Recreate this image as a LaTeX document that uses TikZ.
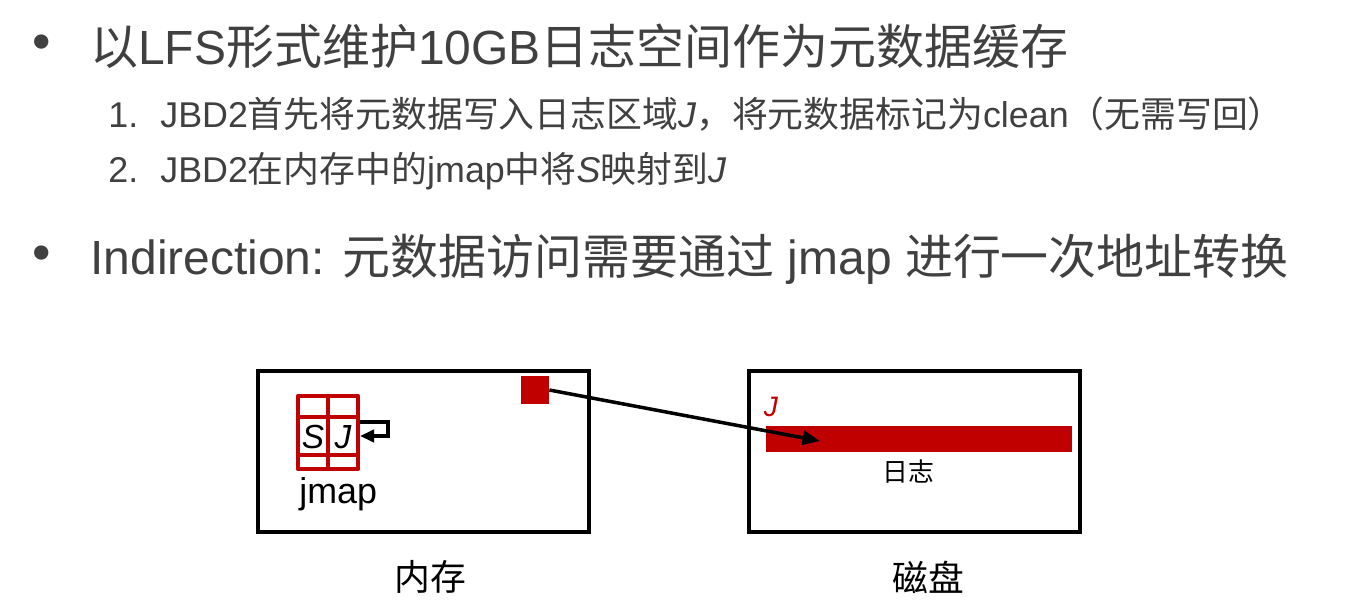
\documentclass[tikz,border=0pt]{standalone}
\usepackage{fontspec}
\setmainfont{Liberation Sans}
\newfontfamily\cjk{Noto Sans CJK SC}
\usetikzlibrary{arrows.meta}
\definecolor{darkred}{HTML}{C00000}
\definecolor{textgray}{HTML}{404040}
\newcommand{\zh}[1]{{\cjk #1}}

\begin{document}
\begin{tikzpicture}[x=0.02cm, y=-0.02cm,
  bigtext/.style={anchor=base west, inner sep=0pt, text=textgray,
    font=\fontsize{27.3}{32}\selectfont},
  smalltext/.style={anchor=base west, inner sep=0pt, text=textgray,
    font=\fontsize{20.4}{24}\selectfont},
  frame/.style={draw, line width=2.4pt, anchor=north west, inner sep=0pt,
    minimum width=6.62cm, minimum height=3.22cm},
  caption/.style={font=\fontsize{20.4}{24}\selectfont},
  cell/.style={inner sep=0pt, font=\fontsize{19}{22}\selectfont\itshape},
  gridline/.style={draw=darkred, line width=2.4pt, line join=round},
  link/.style={-{Triangle[length=10pt,width=8pt]}, line width=2pt}]

  \useasboundingbox (0,0) rectangle (1348,611);

  \node[text=textgray, font=\fontsize{30}{34}\selectfont] (dot1) at (42,47) {\textbullet};
  \node[bigtext] (b1) at (90,65)
    {\zh{以}LFS\zh{形式维护}10GB\zh{日志空间作为元数据缓存}};
  \node[smalltext] (n1) at (108,128) {1.};
  \node[smalltext] (i1) at (160,128)
    {JBD2\zh{首先将元数据写入日志区域}\textit{J}\zh{，将元数据标记为}clean\zh{（无需写回）}};
  \node[smalltext] (n2) at (108,183) {2.};
  \node[smalltext] (i2) at (160,183)
    {JBD2\zh{在内存中的}jmap\zh{中将}\textit{S}\zh{映射到}\textit{J}};
  \node[text=textgray, font=\fontsize{30}{34}\selectfont] (dot2) at (42,258) {\textbullet};
  \node[bigtext] (b2) at (90,275)
    {Indirection: \zh{元数据访问需要通过} jmap \zh{进行一次地址转换}};

  % memory
  \node[frame] (mem) at (256,369) {};
  \node[caption] (memlbl) at (430,577) {\zh{内存}};
  \node[fill=darkred, minimum size=0.56cm, inner sep=0pt] (blk) at (535,390) {};
  \draw[gridline] (298,396) rectangle (358,469);
  \draw[gridline] (298,417) -- (358,417) (298,455) -- (358,455) (328,396) -- (328,469);
  \node[cell] (s) at (313,437) {S};
  \node[cell] (j) at (343,437) {J};
  \coordinate (jout) at (360,422);
  \coordinate (jin) at (360,436);
  \draw[-{Triangle[length=8pt,width=7pt]}, line width=1.8pt] (jout) -- ++(28,0) |- (jin);
  \node[caption, anchor=base west, inner sep=0pt] (jmaplbl) at (299,503) {jmap};

  % disk
  \node[frame] (disk) at (747,369) {};
  \node[caption] (disklbl) at (928,577) {\zh{磁盘}};
  \node[fill=darkred, minimum width=6.12cm, minimum height=0.52cm, inner sep=0pt] (log) at (919,439) {};
  \node[text=darkred, inner sep=0pt, font=\fontsize{16}{19}\selectfont\itshape] (jlbl) at (771,407) {J};
  \node[font=\fontsize{14.7}{18}\selectfont] (loglbl) at (908,472) {\zh{日志}};
  \coordinate (jentry) at (820,441);
  \draw[link] (blk.east) -- (jentry);
\end{tikzpicture}
\end{document}
